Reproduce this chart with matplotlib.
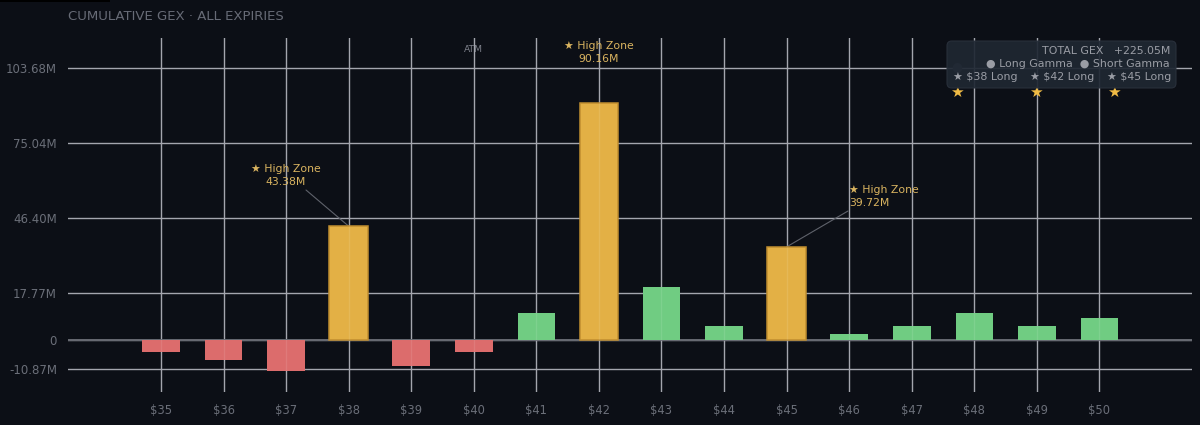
import matplotlib
matplotlib.use("Agg")
import matplotlib.pyplot as plt
from matplotlib.patches import FancyBboxPatch, Rectangle

strikes = [35, 36, 37, 38, 39, 40, 41, 42, 43, 44, 45, 46, 47, 48, 49, 50]
gex = [-4.7, -7.6, -11.8, 43.38, -10.0, -4.7, 10.3, 90.16, 20.2, 5.3, 35.5, 2.3, 5.3, 10.3, 5.3, 8.4]
high_zone = [38, 42, 45]
ytick_vals = [-10.87, 0, 17.77, 46.40, 75.04, 103.68]
ytick_labels = ["-10.87M", "0", "17.77M", "46.40M", "75.04M", "103.68M"]
xtick_labels = ["\\$" + str(s) for s in strikes]

W, H = 1200, 425
BG = "#0c0f16"
RED, GREEN, GOLD = "#dc6c6c", "#70cc82", "#e3b045"
plt.rcParams["font.family"] = ["DejaVu Sans"]
fig = plt.figure(figsize=(W / 100, H / 100), dpi=100, facecolor=BG)
ax = fig.add_axes([68 / W, 1 - 392 / H, (1192 - 68) / W, (392 - 38) / H], facecolor=BG)
ax.set_xlim(33.513, 51.48)
ax.set_ylim(-19.8, 115.1)
for s in ax.spines.values():
    s.set_visible(False)

ax.set_xticks(strikes)
ax.set_xticklabels(xtick_labels, color="#6b6f79", fontsize=8.3)
ax.set_yticks(ytick_vals)
ax.set_yticklabels(ytick_labels, color="#6b6f79", fontsize=8.5)
ax.tick_params(length=0, pad=8)
ax.tick_params(axis="x", pad=9)
ax.grid(True, color="#a4a6ae", lw=1.0, zorder=1)
ax.set_axisbelow(True)
ax.axhline(0, color="#666971", lw=1.4, zorder=1.5)

for s, v in zip(strikes, gex):
    if s in high_zone:
        c, ec, w = GOLD, "#c08e30", 0.62
    else:
        c, ec, w = (GREEN if v > 0 else RED), "none", 0.6
    ax.bar(s, v, width=w, color=c, edgecolor=ec, lw=1.1, zorder=3)
    ax.plot([s, s], [0, v], color="#ffffff", alpha=0.1, lw=1, zorder=4)

def lbl(px, py, text, color, size=7.8, ha="center"):
    fig.text(px / W, 1 - py / H, text, color=color, fontsize=size, ha=ha, va="center")

fig.add_artist(Rectangle((0, 1 - 1.5 / H), 110 / W, 1.5 / H, transform=fig.transFigure, fc="#000000", ec="none"))
fig.text(68 / W, 1 - 16 / H, "CUMULATIVE GEX · ALL EXPIRIES", color="#676b76", fontsize=9.5, va="center")
fig.text(473 / W, 1 - 49 / H, "ATM", color="#7d808a", fontsize=6.6, ha="center", va="center")

TXT = "#dab460"
for px, py, v in [(286, 169, "43.38M"), (599, 46, "90.16M")]:
    lbl(px, py, "★ High Zone", TXT)
    lbl(px, py + 13, v, TXT)
lbl(849, 190, "★ High Zone", TXT, ha="left")
lbl(849, 203, "39.72M", TXT, ha="left")
ax.annotate("", xy=(38, 43.38), xytext=(306 / W, 1 - 190 / H), textcoords="figure fraction",
            arrowprops=dict(arrowstyle="-", color="#5f626b", lw=0.8, shrinkA=0, shrinkB=0), zorder=2)
ax.annotate("", xy=(45, 35.5), xytext=(848 / W, 1 - 211 / H), textcoords="figure fraction",
            arrowprops=dict(arrowstyle="-", color="#5f626b", lw=0.8, shrinkA=0, shrinkB=0), zorder=2)

for px in (957, 1036, 1114):
    fig.text(px / W, 1 - 92 / H, "★", color="#f0bb45", fontsize=11, ha="center", va="center", zorder=5)
fig.text(957 / W, 1 - 67 / H, "●", color="#3a4350", fontsize=9, ha="center", va="center", zorder=5)

box = FancyBboxPatch((947 / W, 1 - 88 / H), 229 / W, 47 / H, transform=fig.transFigure,
                     boxstyle="round,pad=0,rounding_size=0.004", mutation_aspect=W / H,
                     fc="#1f2732", ec="#2a313c", lw=0.8, alpha=0.92, zorder=6)
fig.add_artist(box)
T = "#9a9da5"
def tip(px, py, s, ha="left"):
    fig.text(px / W, 1 - py / H, s, color=T, fontsize=7.9, ha=ha, va="center", zorder=7)
tip(1170, 51, "TOTAL GEX   +225.05M", "right")
tip(1170, 64, "● Long Gamma  ● Short Gamma", "right")
tip(953, 77, "★ \\$38 Long")
tip(1030, 77, "★ \\$42 Long")
tip(1107, 77, "★ \\$45 Long")

fig.savefig("out.png", dpi=100, facecolor=BG)
